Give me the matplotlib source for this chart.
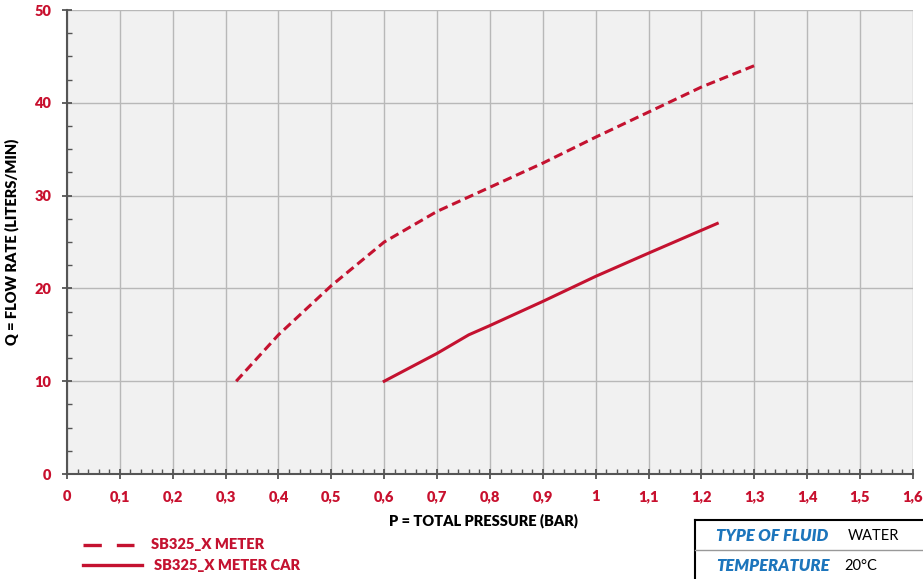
import numpy as np
import matplotlib.pyplot as plt
from matplotlib.ticker import MultipleLocator
from matplotlib.lines import Line2D

# curve values
meter_p = [0.32, 0.4, 0.5, 0.6, 0.7, 0.8, 0.9, 1.0, 1.1, 1.2, 1.3]
meter_q = [10, 15, 20.3, 25, 28.3, 30.9, 33.5, 36.3, 39, 41.7, 44]
car_p = [0.6, 0.7, 0.76, 0.8, 0.9, 1.0, 1.1, 1.23]
car_q = [10, 13, 15, 16, 18.6, 21.3, 23.8, 27]
x_ticks = [0, 0.1, 0.2, 0.3, 0.4, 0.5, 0.6, 0.7, 0.8, 0.9, 1.0, 1.1, 1.2, 1.3, 1.4, 1.5, 1.6]
x_labels = ['0', '0,1', '0,2', '0,3', '0,4', '0,5', '0,6', '0,7', '0,8', '0,9', '1',
            '1,1', '1,2', '1,3', '1,4', '1,5', '1,6']
y_ticks = [0, 10, 20, 30, 40, 50]

RED = '#c41230'
TICK_RED = '#c8102e'
BLUE = '#1c75bc'

plt.rcParams['font.family'] = ['Lato', 'DejaVu Sans']

fig = plt.figure(figsize=(9.23, 5.79), dpi=100)
ax = fig.add_axes([0.0726, 0.1813, 0.9164, 0.8014])
ax.set_facecolor('#f1f1f1')

ax.plot(meter_p, meter_q, color=RED, lw=2.2, dashes=(3, 1.6))
ax.plot(car_p, car_q, color=RED, lw=2.2)

ax.set_xlim(0, 1.6)
ax.set_ylim(0, 50)
ax.set_xticks(x_ticks)
ax.set_xticklabels(x_labels)
ax.set_yticks(y_ticks)
ax.xaxis.set_minor_locator(MultipleLocator(0.02))
ax.yaxis.set_minor_locator(MultipleLocator(2.5))
ax.grid(True, which='major', color='#b8b8b8', lw=1)
ax.set_axisbelow(True)

for s in ['top', 'right']:
    ax.spines[s].set_visible(False)
for s in ['left', 'bottom']:
    ax.spines[s].set_color('#555555')
    ax.spines[s].set_linewidth(1.5)

ax.tick_params(which='major', direction='inout', length=7, width=1.3, color='#555555',
               labelcolor=TICK_RED, labelsize=10.5, pad=8)
ax.tick_params(which='minor', direction='in', length=3.5, width=1, color='#555555')
for lab in ax.get_xticklabels() + ax.get_yticklabels():
    lab.set_fontweight('heavy')

ax.set_xlabel('P = TOTAL PRESSURE (BAR)', fontsize=10.5, fontweight='heavy')
ax.xaxis.set_label_coords(0.492, -0.085)
ax.set_ylabel('Q = FLOW RATE (LITERS/MIN)', fontsize=10.5, fontweight='heavy')
ax.yaxis.set_label_coords(-0.057, 0.5)

# legend below the chart
fig.add_artist(Line2D([0.09, 0.145], [0.059, 0.059], color=RED, lw=2.4, dashes=(5.5, 4.5)))
fig.text(0.164, 0.059, 'SB325_X METER', color=RED, fontsize=10.5, fontweight='heavy', va='center')
fig.add_artist(Line2D([0.09, 0.154], [0.024, 0.024], color=RED, lw=2.4))
fig.text(0.167, 0.024, 'SB325_X METER CAR', color=RED, fontsize=10.5, fontweight='heavy', va='center')

# fluid info box
x0, x1, y0, y1 = 0.753, 1.0, 0.0, 0.102
fig.add_artist(Line2D([x0, x1], [y1, y1], color='black', lw=1.5))
fig.add_artist(Line2D([x0, x0], [y0, y1], color='black', lw=1.5))
fig.add_artist(Line2D([x0, x1], [0.05, 0.05], color='#999999', lw=1))
fig.text(0.776, 0.075, 'TYPE OF FLUID', color=BLUE, fontsize=12, fontweight='heavy',
         style='italic', va='center')
fig.text(0.918, 0.075, 'WATER', color='black', fontsize=10.5, va='center')
fig.text(0.776, 0.022, 'TEMPERATURE', color=BLUE, fontsize=12, fontweight='heavy',
         style='italic', va='center')
fig.text(0.915, 0.022, '20°C', color='black', fontsize=10.5, va='center')

fig.savefig('out.png', dpi=100)
